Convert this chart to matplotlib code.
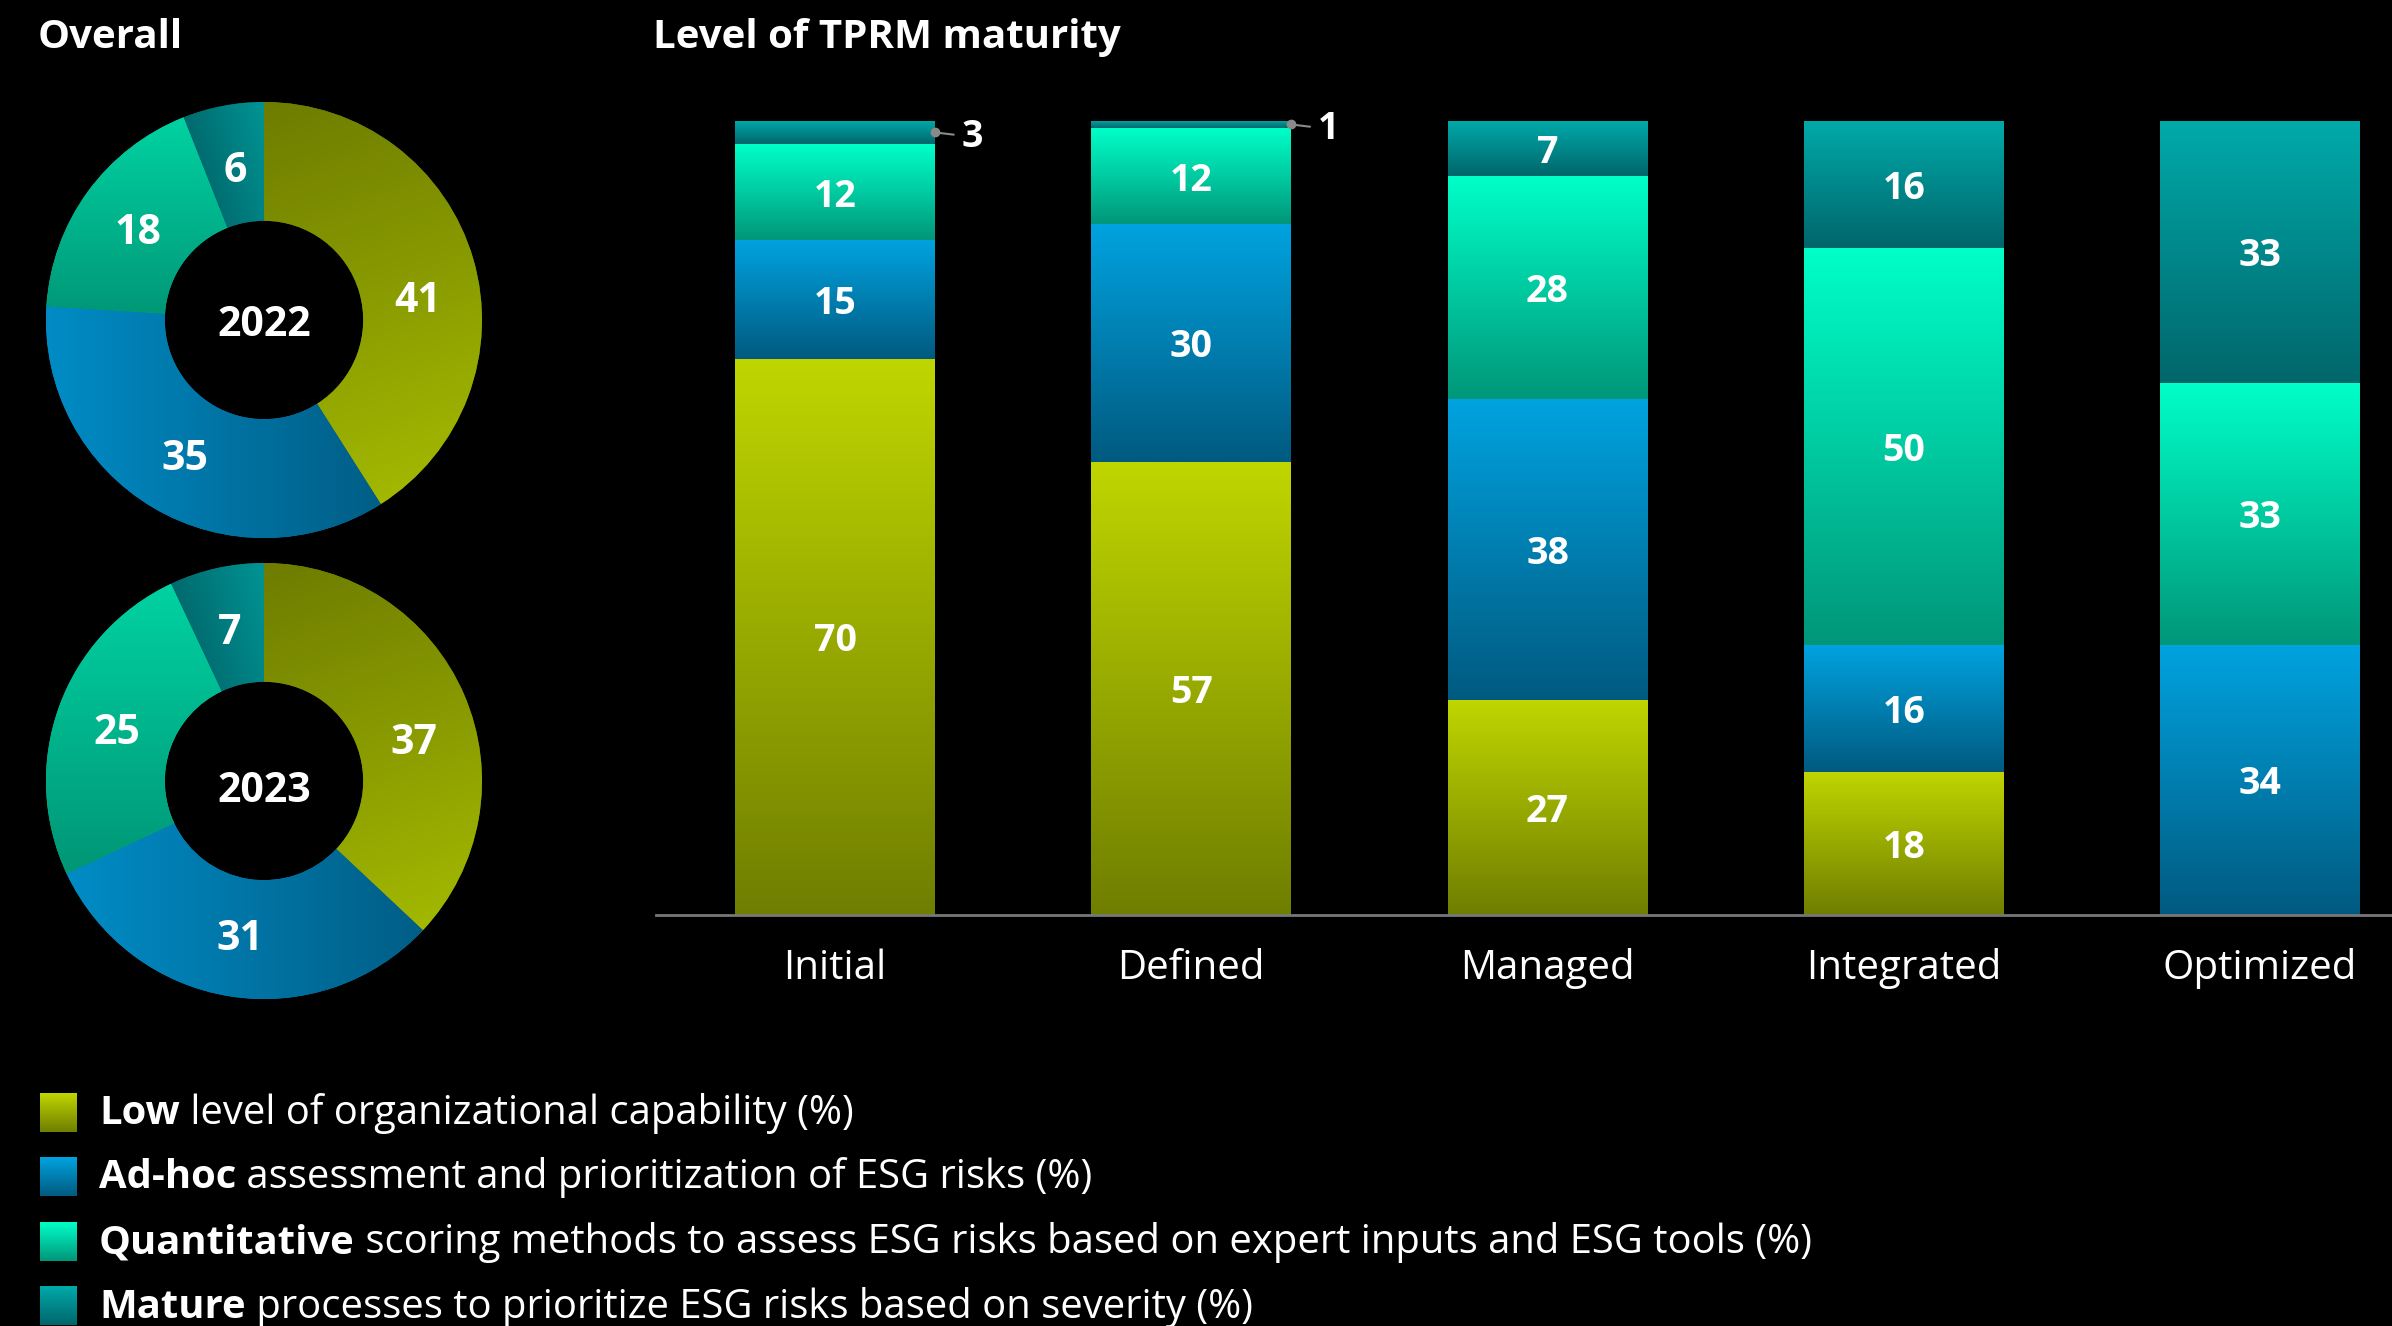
import numpy as np
import matplotlib

matplotlib.use("Agg")
import matplotlib.pyplot as plt
from matplotlib.colors import LinearSegmentedColormap

plt.rcParams["font.family"] = ["Open Sans", "DejaVu Sans"]

W, H = 2392, 1326

# ---- data ----
categories = ["Low", "Ad-hoc", "Quantitative", "Mature"]
legend_rest = [
    " level of organizational capability (%)",
    " assessment and prioritization of ESG risks (%)",
    " scoring methods to assess ESG risks based on expert inputs and ESG tools (%)",
    " processes to prioritize ESG risks based on severity (%)",
]
years = ["2022", "2023"]
overall_2022 = [41, 35, 18, 6]
overall_2023 = [37, 31, 25, 7]

levels = ["Initial", "Defined", "Managed", "Integrated", "Optimized"]
low = [70, 57, 27, 18, 0]
adhoc = [15, 30, 38, 16, 34]
quant = [12, 12, 28, 50, 33]
mature = [3, 1, 7, 16, 33]

# ---- styles ----
bar_grad = {  # (bottom, top)
    "Low": ("#6f7e00", "#c0d600"),
    "Ad-hoc": ("#005a80", "#00a3e0"),
    "Quantitative": ("#00967a", "#00ffc8"),
    "Mature": ("#00666b", "#00aaaa"),
}
pie_grad = {  # (start, end, direction)
    "Low": ("#6e7c00", "#a2b800", (0.35, -1.0)),
    "Ad-hoc": ("#008cc6", "#005e86", (1.0, 0.0)),
    "Quantitative": ("#00d2a2", "#009676", (0.0, -1.0)),
    "Mature": ("#006a6e", "#009494", (1.0, 0.3)),
}
label_nudge = {"Low": -7.5}
grey = "#8a8a8a"


def cmap_of(c0, c1):
    return LinearSegmentedColormap.from_list("g", [c0, c1])


def donut(ax, values, year, year_dy):
    wedges, _ = ax.pie(values, startangle=90, counterclock=False, radius=1,
                       colors=[pie_grad[c][0] for c in categories],
                       wedgeprops=dict(width=0.545, linewidth=0))
    xs = np.linspace(-1, 1, 400)
    X, Y = np.meshgrid(xs, xs)
    for w, cat, v in zip(wedges, categories, values):
        c0, c1, (dx, dy) = pie_grad[cat]
        verts = w.get_path().vertices
        proj = verts[:, 0] * dx + verts[:, 1] * dy
        g = (X * dx + Y * dy - proj.min()) / (proj.max() - proj.min())
        im = ax.imshow(g, extent=[-1, 1, -1, 1], origin="lower", aspect="auto",
                       cmap=cmap_of(c0, c1), vmin=0, vmax=1, zorder=2,
                       interpolation="bilinear")
        im.set_clip_path(w)
        ang = np.deg2rad((w.theta1 + w.theta2) / 2 + label_nudge.get(cat, 0))
        ax.text(0.715 * np.cos(ang), 0.715 * np.sin(ang), str(v), color="white",
                fontsize=29.5, fontweight="bold", ha="center", va="center_baseline",
                zorder=3)
    ax.text(0, year_dy, year, color="white", fontsize=29.5, fontweight="bold",
            ha="center", va="center_baseline", zorder=3)
    ax.set_xlim(-1.02, 1.02)
    ax.set_ylim(-1.02, 1.02)
    ax.set_aspect("auto")
    ax.axis("off")


fig = plt.figure(figsize=(W / 100, H / 100), dpi=100, facecolor="black")

# overlay in pixel coordinates for legend swatches
lay = fig.add_axes([0, 0, 1, 1])
lay.set_xlim(0, W)
lay.set_ylim(H, 0)
lay.axis("off")
lay.set_zorder(-1)

# ---- donuts ----
R = 218
half = R * 1.02
for (cx, cy), vals, yr, ydy in [((264, 320), overall_2022, years[0], 0.0),
                                ((264, 781), overall_2023, years[1], -0.025)]:
    ax_d = fig.add_axes([(cx - half) / W, (H - cy - half) / H, 2 * half / W, 2 * half / H])
    ax_d.set_facecolor("none")
    donut(ax_d, vals, yr, ydy)

# ---- stacked bars ----
ax = fig.add_axes([656 / W, (H - 915) / H, (W - 656) / W, 794.5 / H])
ax.set_facecolor("none")
x = np.arange(len(levels))
bw = 0.561
bottom = np.zeros(len(levels))
grad = np.linspace(0, 1, 256).reshape(-1, 1)
for cat, vals in zip(categories, [low, adhoc, quant, mature]):
    vals = np.array(vals, dtype=float)
    bars = ax.bar(x, vals, bw, bottom=bottom, color=bar_grad[cat][0], linewidth=0)
    for b, v in zip(bars, vals):
        if v <= 0:
            continue
        x0, y0, bwid, bh = b.get_x(), b.get_y(), b.get_width(), b.get_height()
        im = ax.imshow(grad, extent=[x0, x0 + bwid, y0, y0 + bh], origin="lower",
                       aspect="auto", cmap=cmap_of(*bar_grad[cat]), zorder=2,
                       interpolation="bilinear")
        im.set_clip_path(b)
        mid = y0 + bh / 2
        if v <= 3:
            ax.plot(x0 + bwid, mid, "o", color=grey, ms=6, zorder=4, clip_on=False)
            ax.annotate(str(int(v)), xy=(x0 + bwid, mid), xytext=(19.5, 0),
                        textcoords="offset points", ha="left", va="center_baseline",
                        color="white", fontsize=27, fontweight="bold",
                        arrowprops=dict(arrowstyle="-", color=grey, lw=1.5,
                                        shrinkA=4, shrinkB=0))
        else:
            ax.text(x0 + bwid / 2, mid, str(int(v)), color="white", fontsize=27,
                    fontweight="bold", ha="center", va="center_baseline", zorder=3)
    bottom += vals

ax.set_xlim(-0.5025, 4.3705)
ax.set_ylim(0, 100)
ax.set_xticks(x, levels, color="white", fontsize=29)
ax.set_yticks([])
ax.tick_params(axis="x", length=0, pad=24)
for s in ["top", "right", "left"]:
    ax.spines[s].set_visible(False)
ax.spines["bottom"].set_color("#777777")
ax.spines["bottom"].set_linewidth(2)

# ---- titles ----
fig.text(38 / W, 1 - 48 / H, "Overall", color="white", fontsize=29,
         fontweight="bold", va="baseline")
fig.text(653 / W, 1 - 48 / H, "Level of TPRM maturity", color="white", fontsize=29,
         fontweight="bold", va="baseline")

# ---- legend ----
renderer = fig.canvas.get_renderer()
for i, (cat, rest) in enumerate(zip(categories, legend_rest)):
    top = 1093 + i * 64.5
    lay.imshow(grad, extent=[39.5, 76.5, top + 39, top], origin="lower", aspect="auto",
               cmap=cmap_of(*bar_grad[cat]), interpolation="bilinear")
    t = fig.text(99 / W, 1 - (top + 31) / H, cat, color="white", fontsize=28.8,
                 fontweight="bold", va="baseline")
    bb = t.get_window_extent(renderer)
    fig.text(bb.x1 / W, 1 - (top + 31) / H, rest, color="white", fontsize=28.8,
             va="baseline")
lay.set_xlim(0, W)
lay.set_ylim(H, 0)

fig.savefig("out.png", dpi=100, facecolor="black")
